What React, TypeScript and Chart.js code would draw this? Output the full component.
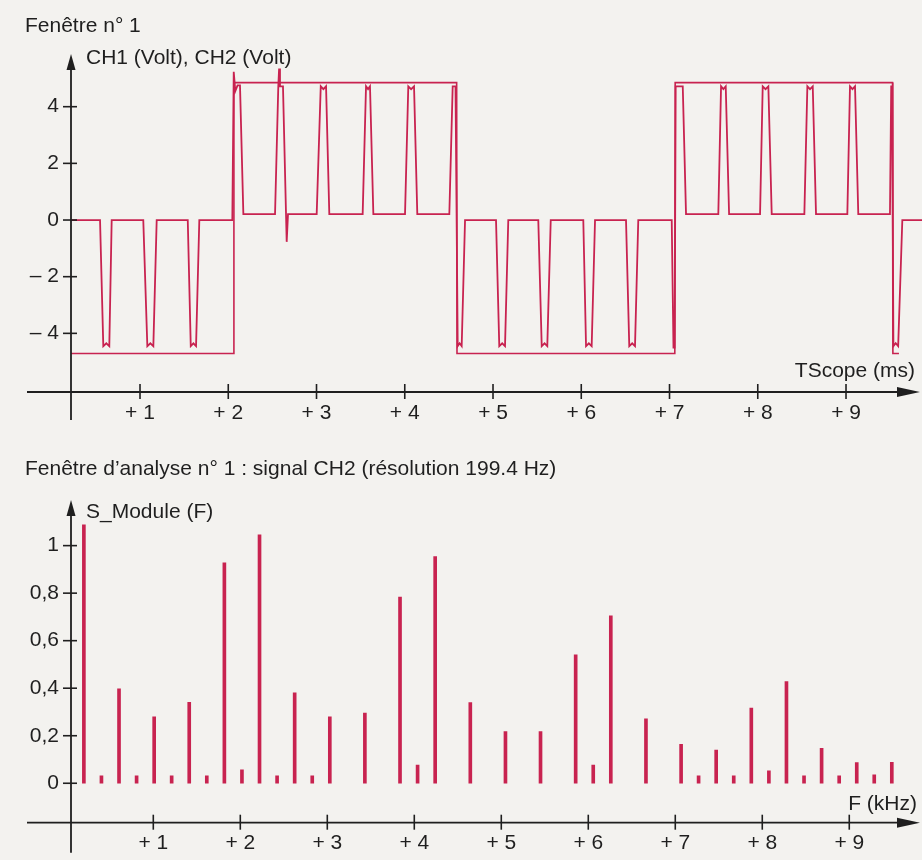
import React, { useEffect, useRef } from "react";
import { Chart, registerables } from "chart.js";

Chart.register(...registerables);

const FONT = '"Liberation Sans", Arial, Helvetica, sans-serif';
const BG = "#f3f2ef";
const RED = "#c82350";
const INK = "#1f1f1f";

// ---------- Top chart : Fenêtre n° 1 ----------
const timeTicks = [1, 2, 3, 4, 5, 6, 7, 8, 9];
const timeTickLabels = ["+ 1", "+ 2", "+ 3", "+ 4", "+ 5", "+ 6", "+ 7", "+ 8", "+ 9"];
const voltTicks = [-4, -2, 0, 2, 4];
const voltTickLabels = ["– 4", "– 2", "0", "2", "4"];

const ch1Time = [0.218, 2.06, 2.064, 4.588, 4.592, 7.06, 7.064, 9.527, 9.531, 9.6];
const ch1Volt = [-4.71, -4.71, 4.85, 4.85, -4.71, -4.71, 4.85, 4.85, -4.71, -4.71];

const ch2Time = [
  0.218, 0.547, 0.584, 0.618, 0.652, 0.679,
  1.037, 1.083, 1.117, 1.151, 1.189,
  1.541, 1.575, 1.605, 1.635, 1.672,
  2.046, 2.062, 2.08, 2.105, 2.133, 2.171,
  2.53, 2.567, 2.576, 2.586, 2.62, 2.662, 2.677,
  3.002, 3.048, 3.078, 3.108, 3.145,
  3.523, 3.561, 3.584, 3.606, 3.644,
  4.003, 4.04, 4.072, 4.105, 4.142,
  4.505, 4.543, 4.575, 4.6, 4.622, 4.645, 4.683,
  5.034, 5.071, 5.104, 5.136, 5.173,
  5.513, 5.552, 5.584, 5.615, 5.654,
  6.023, 6.054, 6.086, 6.118, 6.156,
  6.507, 6.544, 6.577, 6.609, 6.646,
  7.025, 7.045, 7.058, 7.07, 7.15, 7.187,
  7.553, 7.584, 7.61, 7.637, 7.675,
  8.026, 8.056, 8.088, 8.12, 8.158,
  8.528, 8.562, 8.592, 8.623, 8.66,
  9.015, 9.045, 9.073, 9.102, 9.139,
  9.498, 9.512, 9.522, 9.537, 9.563, 9.591, 9.638, 9.861,
];
const ch2Volt = [
  0, 0, -4.45, -4.35, -4.45, 0,
  0, -4.45, -4.35, -4.45, 0,
  0, -4.45, -4.35, -4.45, 0,
  0, 5.23, 4.55, 4.75, 4.75, 0.21,
  0.21, 4.72, 5.35, 4.72, 4.72, -0.77, 0.21,
  0.21, 4.72, 4.62, 4.72, 0.21,
  0.21, 4.72, 4.62, 4.72, 0.21,
  0.21, 4.72, 4.62, 4.72, 0.21,
  0.21, 4.72, 4.72, -4.45, -4.35, -4.45, 0,
  0, -4.45, -4.35, -4.45, 0,
  0, -4.45, -4.35, -4.45, 0,
  0, -4.45, -4.35, -4.45, 0,
  0, -4.45, -4.35, -4.45, 0,
  0, -4.5, -4.5, 4.72, 4.72, 0.21,
  0.21, 4.72, 4.62, 4.72, 0.21,
  0.21, 4.72, 4.62, 4.72, 0.21,
  0.21, 4.72, 4.62, 4.72, 0.21,
  0.21, 4.72, 4.62, 4.72, 0.21,
  0.21, 4.72, 4.72, -4.45, -4.35, -4.45, 0, 0,
];

// ---------- Bottom chart : spectre CH2 ----------
const freqTicks = [1, 2, 3, 4, 5, 6, 7, 8, 9];
const freqTickLabels = ["+ 1", "+ 2", "+ 3", "+ 4", "+ 5", "+ 6", "+ 7", "+ 8", "+ 9"];
const moduleTicks = [0, 0.2, 0.4, 0.6, 0.8, 1];
const moduleTickLabels = ["0", "0,2", "0,4", "0,6", "0,8", "1"];

const spectrumFreq = [
  0.202, 0.404, 0.606, 0.808, 1.01, 1.211, 1.413, 1.615, 1.817, 2.019,
  2.221, 2.423, 2.625, 2.827, 3.029, 3.23, 3.432, 3.634, 3.836, 4.038,
  4.24, 4.442, 4.644, 4.846, 5.048, 5.249, 5.451, 5.653, 5.855, 6.057,
  6.259, 6.461, 6.663, 6.865, 7.067, 7.268, 7.47, 7.672, 7.874, 8.076,
  8.278, 8.48, 8.682, 8.884, 9.086, 9.287, 9.489,
];
const spectrumModule = [
  1.087, 0.031, 0.397, 0.031, 0.28, 0.031, 0.341, 0.031, 0.928, 0.056,
  1.045, 0.031, 0.381, 0.031, 0.28, 0, 0.295, 0, 0.783, 0.077,
  0.954, 0, 0.339, 0, 0.217, 0, 0.217, 0, 0.54, 0.077,
  0.705, 0, 0.271, 0, 0.164, 0.031, 0.14, 0.031, 0.316, 0.052,
  0.428, 0.031, 0.147, 0.031, 0.087, 0.035, 0.088,
];

type Txt = { text: string; x: number; y: number; align?: CanvasTextAlign };
type Decor = {
  xTicks: number[];
  xLabels: string[];
  yTicks: number[];
  yLabels: string[];
  texts: Txt[];
  yAxisBelow: number;
};

function makeDecor(d: Decor) {
  return {
    id: "decor",
    beforeDraw(chart: any) {
      const { ctx, width, height } = chart;
      ctx.save();
      ctx.fillStyle = BG;
      ctx.fillRect(0, 0, width, height);
      ctx.restore();
    },
    afterDatasetsDraw(chart: any) {
      const { ctx, chartArea: a, scales } = chart;
      const xs = scales.x;
      const ys = scales.y;
      ctx.save();
      ctx.strokeStyle = INK;
      ctx.fillStyle = INK;
      ctx.lineWidth = 1.8;
      // y axis + arrow
      ctx.beginPath();
      ctx.moveTo(a.left, a.bottom + d.yAxisBelow);
      ctx.lineTo(a.left, a.top + 12);
      ctx.stroke();
      ctx.beginPath();
      ctx.moveTo(a.left, a.top);
      ctx.lineTo(a.left - 4.5, a.top + 16);
      ctx.lineTo(a.left + 4.5, a.top + 16);
      ctx.closePath();
      ctx.fill();
      // x axis + arrow
      ctx.beginPath();
      ctx.moveTo(27, a.bottom);
      ctx.lineTo(a.right - 20, a.bottom);
      ctx.stroke();
      ctx.beginPath();
      ctx.moveTo(a.right - 2, a.bottom);
      ctx.lineTo(a.right - 25, a.bottom - 5);
      ctx.lineTo(a.right - 25, a.bottom + 5);
      ctx.closePath();
      ctx.fill();
      // ticks
      ctx.lineWidth = 1.6;
      ctx.font = `21px ${FONT}`;
      d.yTicks.forEach((v, i) => {
        const py = ys.getPixelForValue(v);
        ctx.beginPath();
        ctx.moveTo(a.left - 8, py);
        ctx.lineTo(a.left + 6, py);
        ctx.stroke();
        ctx.textAlign = "right";
        ctx.textBaseline = "middle";
        ctx.fillText(d.yLabels[i], a.left - 12, py);
      });
      d.xTicks.forEach((v, i) => {
        const px = xs.getPixelForValue(v);
        ctx.beginPath();
        ctx.moveTo(px, a.bottom - 8);
        ctx.lineTo(px, a.bottom + 7);
        ctx.stroke();
        ctx.textAlign = "center";
        ctx.textBaseline = "middle";
        ctx.fillText(d.xLabels[i], px, a.bottom + 21);
      });
      // titles
      ctx.textBaseline = "alphabetic";
      d.texts.forEach((t) => {
        ctx.textAlign = t.align || "left";
        ctx.fillText(t.text, t.x, t.y);
      });
      ctx.restore();
    },
  };
}

export default function App() {
  const topRef = useRef<HTMLCanvasElement | null>(null);
  const botRef = useRef<HTMLCanvasElement | null>(null);

  useEffect(() => {
    const top = new Chart(topRef.current as HTMLCanvasElement, {
      type: "line",
      data: {
        datasets: [
          {
            label: "CH1",
            data: ch1Time.map((t, i) => ({ x: t, y: ch1Volt[i] })),
            borderColor: RED,
            borderWidth: 1.6,
            pointRadius: 0,
            tension: 0,
            fill: false,
          },
          {
            label: "CH2",
            data: ch2Time.map((t, i) => ({ x: t, y: ch2Volt[i] })),
            borderColor: RED,
            borderWidth: 1.8,
            pointRadius: 0,
            tension: 0,
            fill: false,
          },
        ],
      },
      options: {
        responsive: false,
        animation: false,
        devicePixelRatio: 1,
        layout: { padding: { left: 71, right: 0, top: 54, bottom: 38 } },
        scales: {
          x: { type: "linear", min: 0.218, max: 9.861, display: false },
          y: { type: "linear", min: -6.07, max: 5.86, display: false },
        },
        plugins: {
          legend: { display: false },
          tooltip: { enabled: false },
          title: { display: false },
        },
      },
      plugins: [
        makeDecor({
          xTicks: timeTicks,
          xLabels: timeTickLabels,
          yTicks: voltTicks,
          yLabels: voltTickLabels,
          yAxisBelow: 28,
          texts: [
            { text: "Fenêtre n° 1", x: 25, y: 32 },
            { text: "CH1 (Volt), CH2 (Volt)", x: 86, y: 64 },
            { text: "TScope (ms)", x: 915, y: 377, align: "right" },
          ],
        }),
      ],
    } as any);

    const bot = new Chart(botRef.current as HTMLCanvasElement, {
      type: "bar",
      data: {
        datasets: [
          {
            label: "S_Module (F)",
            data: spectrumFreq.map((f, i) => ({
              x: f,
              y: spectrumModule[i] > 0 ? spectrumModule[i] : null,
            })),
            backgroundColor: RED,
            borderWidth: 0,
            barThickness: 3,
            skipNull: true,
          },
        ],
      },
      options: {
        responsive: false,
        animation: false,
        devicePixelRatio: 1,
        layout: { padding: { left: 71, right: 0, top: 70, bottom: 37.3 } },
        scales: {
          x: { type: "linear", min: 0.054, max: 9.836, offset: false, display: false },
          y: { type: "linear", min: -0.166, max: 1.192, display: false },
        },
        plugins: {
          legend: { display: false },
          tooltip: { enabled: false },
          title: { display: false },
        },
      },
      plugins: [
        makeDecor({
          xTicks: freqTicks,
          xLabels: freqTickLabels,
          yTicks: moduleTicks,
          yLabels: moduleTickLabels,
          yAxisBelow: 30,
          texts: [
            { text: "Fenêtre d’analyse n° 1 : signal CH2 (résolution 199.4 Hz)", x: 25, y: 45 },
            { text: "S_Module (F)", x: 86, y: 88 },
            { text: "F (kHz)", x: 917, y: 380, align: "right" },
          ],
        }),
      ],
    } as any);

    return () => {
      top.destroy();
      bot.destroy();
    };
  }, []);

  return (
    <div
      style={{
        position: "absolute",
        left: 0,
        top: 0,
        width: 922,
        height: 860,
        background: BG,
      }}
    >
      <canvas ref={topRef} width={922} height={430} style={{ display: "block" }} />
      <canvas ref={botRef} width={922} height={430} style={{ display: "block" }} />
    </div>
  );
}
